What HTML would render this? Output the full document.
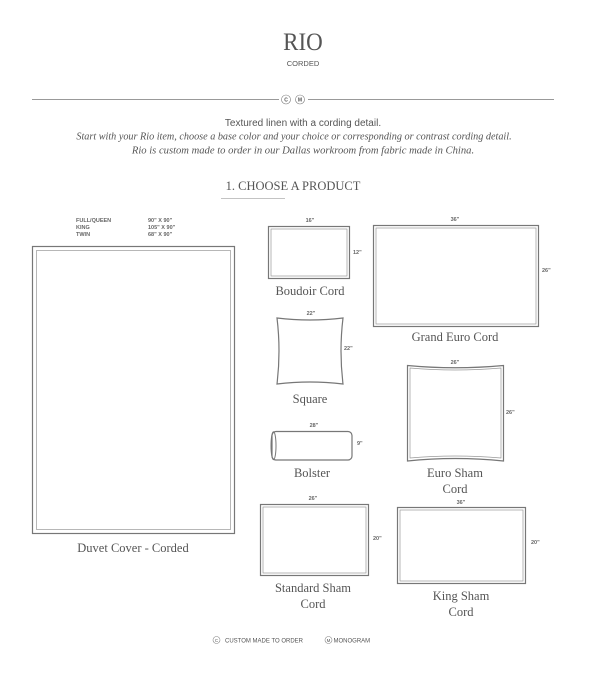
<!DOCTYPE html>
<html><head><meta charset="utf-8"><style>
html,body{margin:0;padding:0;background:#fff;}
svg{display:block;}
.s{font-family:"Liberation Serif",serif;fill:#555;}
.a{font-family:"Liberation Sans",sans-serif;fill:#555;}
.d{font-family:"Liberation Sans",sans-serif;fill:#666;font-size:5.5px;font-weight:bold;}
.o{fill:none;stroke:#777;stroke-width:1.2;}
.i{fill:none;stroke:#999;stroke-width:0.7;}
.l{font-family:"Liberation Serif",serif;fill:#555;font-size:12.5px;text-anchor:middle;}
</style></head><body>
<svg width="606" height="684" viewBox="0 0 606 684" xmlns="http://www.w3.org/2000/svg">
<text class="s" x="303" y="50" font-size="25" text-anchor="middle" transform="translate(303 0) scale(0.92 1) translate(-303 0)">RIO</text>
<text class="a" x="303" y="66" font-size="7.5" text-anchor="middle">CORDED</text>
<line x1="32" y1="99.5" x2="279" y2="99.5" stroke="#777" stroke-width="0.8"/>
<line x1="308" y1="99.5" x2="554" y2="99.5" stroke="#777" stroke-width="0.8"/>
<circle cx="286" cy="99.5" r="4.5" fill="none" stroke="#777" stroke-width="0.6"/>
<circle cx="300" cy="99.5" r="4.5" fill="none" stroke="#777" stroke-width="0.6"/>
<text class="a" x="286" y="101.5" font-size="5" text-anchor="middle" font-weight="bold">C</text>
<text class="a" x="300" y="101.5" font-size="5" text-anchor="middle" font-weight="bold">M</text>
<text class="a" x="303" y="126" font-size="10" text-anchor="middle">Textured linen with a cording detail.</text>
<text class="s" x="294" y="139.5" font-size="10.2" font-style="italic" text-anchor="middle">Start with your Rio item, choose a base color and your choice or corresponding or contrast cording detail.</text>
<text class="s" x="303" y="153.5" font-size="10.6" font-style="italic" text-anchor="middle">Rio is custom made to order in our Dallas workroom from fabric made in China.</text>
<text class="s" x="293" y="190" font-size="12.5" text-anchor="middle">1. CHOOSE A PRODUCT</text>
<line x1="221" y1="198.5" x2="285" y2="198.5" stroke="#888" stroke-width="0.6"/>

<text class="d" x="76" y="222">FULL/QUEEN</text><text class="d" x="76" y="229">KING</text><text class="d" x="76" y="236">TWIN</text>
<text class="d" x="148" y="222">90" X 90"</text><text class="d" x="148" y="229">105" X 90"</text><text class="d" x="148" y="236">68" X 90"</text>

<rect class="o" x="32.5" y="246.5" width="202" height="287"/>
<rect class="i" x="36.5" y="250.5" width="194" height="279"/>
<text class="l" x="133" y="552">Duvet Cover - Corded</text>

<rect class="o" x="268.5" y="226.5" width="81" height="52"/>
<rect class="i" x="271" y="229" width="76" height="47"/>
<text class="d" x="310" y="222" text-anchor="middle">16"</text>
<text class="d" x="353" y="254">12"</text>
<text class="l" x="310" y="295">Boudoir Cord</text>

<rect class="o" x="373.5" y="225.5" width="165" height="101"/>
<rect class="i" x="376" y="228" width="160" height="96"/>
<text class="d" x="455" y="221" text-anchor="middle">36"</text>
<text class="d" x="542" y="272">26"</text>
<text class="l" x="455" y="341">Grand Euro Cord</text>

<path class="o" d="M277,318 Q310,322 343,318 Q339,351 343,384 Q310,380 277,384 Q281,351 277,318Z"/>
<text class="d" x="311" y="315" text-anchor="middle">22"</text>
<text class="d" x="344" y="350">22"</text>
<text class="l" x="310" y="403">Square</text>

<rect class="o" x="272" y="431.5" width="80" height="28.5" rx="4"/>
<ellipse cx="273.5" cy="445.7" rx="2.5" ry="14" fill="none" stroke="#777" stroke-width="1"/>
<text class="d" x="314" y="427" text-anchor="middle">28"</text>
<text class="d" x="357" y="445">9"</text>
<text class="l" x="312" y="477">Bolster</text>

<path class="o" d="M407.5,365.5 Q455,370 503.5,365.5 L503.5,461 Q455,456 407.5,461Z"/>
<path class="i" d="M410,368 Q455,372 501,368 L501,458 Q455,454 410,458Z"/>
<text class="d" x="455" y="364" text-anchor="middle">26"</text>
<text class="d" x="506" y="414">26"</text>
<text class="l" x="455" y="477">Euro Sham</text>
<text class="l" x="455" y="493">Cord</text>

<rect class="o" x="260.5" y="504.5" width="108" height="71"/>
<rect class="i" x="263" y="507" width="103" height="66"/>
<text class="d" x="313" y="500" text-anchor="middle">26"</text>
<text class="d" x="373" y="540">20"</text>
<text class="l" x="313" y="592">Standard Sham</text>
<text class="l" x="313" y="608">Cord</text>

<rect class="o" x="397.5" y="507.5" width="128" height="76"/>
<rect class="i" x="400" y="510" width="123" height="71"/>
<text class="d" x="461" y="504" text-anchor="middle">36"</text>
<text class="d" x="531" y="544">20"</text>
<text class="l" x="461" y="600">King Sham</text>
<text class="l" x="461" y="616">Cord</text>

<circle cx="216.5" cy="640" r="3.5" fill="none" stroke="#888" stroke-width="0.6"/>
<text class="a" x="216.5" y="641.8" font-size="4.5" text-anchor="middle">C</text>
<text class="a" x="225" y="642.3" font-size="6" fill="#777">CUSTOM MADE TO ORDER</text>
<circle cx="328.5" cy="640" r="3.5" fill="none" stroke="#888" stroke-width="0.6"/>
<text class="a" x="328.5" y="641.8" font-size="4.5" text-anchor="middle">M</text>
<text class="a" x="333.5" y="642.3" font-size="6" fill="#777">MONOGRAM</text>
</svg>
</body></html>
